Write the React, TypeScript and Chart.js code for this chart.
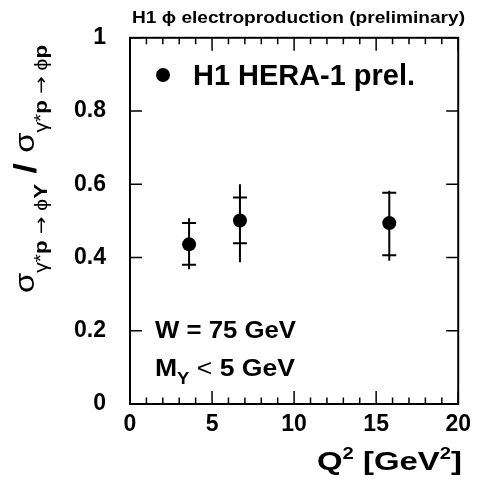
import React, { useEffect, useRef } from "react";
import { Chart, registerables } from "chart.js";

Chart.register(...registerables);

// ---- data ----
const q2Values = [3.6, 6.7, 15.8];
const ratioValues = [0.436, 0.501, 0.494];
const statErrUp = [0.058, 0.063, 0.083];
const statErrDown = [0.056, 0.062, 0.088];
const totErrUp = [0.071, 0.099, 0.088];
const totErrDown = [0.068, 0.114, 0.103];
const xMajorTicks = [0, 5, 10, 15, 20];
const xMinorTicks = [1, 2, 3, 4, 6, 7, 8, 9, 11, 12, 13, 14, 16, 17, 18, 19];
const yTickValues = [0, 0.2, 0.4, 0.6, 0.8, 1];
const yTickLabels = ["0", "0.2", "0.4", "0.6", "0.8", "1"];

const FAM = "'Liberation Sans', Arial, Helvetica, sans-serif";
const DJ = "'DejaVu Sans', sans-serif";

type Piece = { t: string; f: string; dy?: number };

function drawPieces(
  ctx: CanvasRenderingContext2D,
  pieces: Piece[],
  x: number,
  y: number,
  opts: { rotate?: boolean; align?: "left" | "right"; width?: number } = {}
) {
  ctx.save();
  ctx.fillStyle = "#000";
  ctx.textBaseline = "alphabetic";
  ctx.textAlign = "left";
  let total = 0;
  const widths = pieces.map((p) => {
    ctx.font = p.f;
    const w = ctx.measureText(p.t).width;
    total += w;
    return w;
  });
  const sx = opts.width ? opts.width / total : 1;
  ctx.translate(x, y);
  if (opts.rotate) ctx.rotate(-Math.PI / 2);
  let start = 0;
  if (opts.align === "right") start = -total * sx;
  ctx.scale(sx, 1);
  let cx = start / sx;
  pieces.forEach((p, i) => {
    ctx.font = p.f;
    ctx.fillText(p.t, cx, p.dy || 0);
    cx += widths[i];
  });
  ctx.restore();
}

const decorPlugin = {
  id: "decor",
  beforeDatasetsDraw(chart: any) {
    const ctx = chart.ctx as CanvasRenderingContext2D;
    const xs = chart.scales.x;
    const ys = chart.scales.y;
    ctx.save();
    ctx.strokeStyle = "#000";
    ctx.lineWidth = 2;
    q2Values.forEach((q, i) => {
      const px = xs.getPixelForValue(q);
      const v = ratioValues[i];
      const yTop = ys.getPixelForValue(v + totErrUp[i]);
      const yBot = ys.getPixelForValue(v - totErrDown[i]);
      const sTop = ys.getPixelForValue(v + statErrUp[i]);
      const sBot = ys.getPixelForValue(v - statErrDown[i]);
      ctx.beginPath();
      ctx.moveTo(px, yTop);
      ctx.lineTo(px, yBot);
      ctx.moveTo(px - 7, sTop);
      ctx.lineTo(px + 7, sTop);
      ctx.moveTo(px - 7, sBot);
      ctx.lineTo(px + 7, sBot);
      ctx.stroke();
    });
    ctx.restore();
  },
  afterDraw(chart: any) {
    const ctx = chart.ctx as CanvasRenderingContext2D;
    const a = chart.chartArea;
    const xs = chart.scales.x;
    const ys = chart.scales.y;
    ctx.save();
    ctx.strokeStyle = "#000";
    // ticks
    ctx.lineWidth = 1.5;
    ctx.beginPath();
    xMajorTicks.forEach((v) => {
      const px = xs.getPixelForValue(v);
      ctx.moveTo(px, a.bottom);
      ctx.lineTo(px, a.bottom - 13);
      ctx.moveTo(px, a.top);
      ctx.lineTo(px, a.top + 13);
    });
    xMinorTicks.forEach((v) => {
      const px = xs.getPixelForValue(v);
      ctx.moveTo(px, a.bottom);
      ctx.lineTo(px, a.bottom - 6.5);
      ctx.moveTo(px, a.top);
      ctx.lineTo(px, a.top + 6.5);
    });
    yTickValues.forEach((v) => {
      const py = ys.getPixelForValue(v);
      ctx.moveTo(a.left, py);
      ctx.lineTo(a.left + 12, py);
      ctx.moveTo(a.right, py);
      ctx.lineTo(a.right - 12, py);
    });
    ctx.stroke();
    // frame
    ctx.lineWidth = 2;
    ctx.strokeRect(a.left, a.top, a.right - a.left, a.bottom - a.top);
    ctx.restore();

    // legend
    ctx.save();
    ctx.fillStyle = "#000";
    ctx.beginPath();
    ctx.arc(163, 75, 7, 0, Math.PI * 2);
    ctx.fill();
    ctx.restore();
    drawPieces(ctx, [{ t: "H1 HERA-1 prel.", f: `bold 29px ${FAM}` }], 193, 85, { width: 222 });

    // title
    drawPieces(
      ctx,
      [{ t: "H1 \u03D5 electroproduction (preliminary)", f: `bold 16px ${FAM}` }],
      132,
      23,
      { width: 333 }
    );

    // W and M_Y
    drawPieces(ctx, [{ t: "W = 75 GeV", f: `bold 23px ${FAM}` }], 155, 338, { width: 141 });
    drawPieces(
      ctx,
      [
        { t: "M", f: `bold 23px ${FAM}` },
        { t: "Y", f: `bold 16px ${FAM}`, dy: 8 },
        { t: " < ", f: `23px ${FAM}` },
        { t: "5 GeV", f: `bold 23px ${FAM}` },
      ],
      155,
      376,
      { width: 140 }
    );

    // x title
    drawPieces(
      ctx,
      [
        { t: "Q", f: `bold 26px ${FAM}` },
        { t: "2", f: `bold 16px ${FAM}`, dy: -11 },
        { t: " [GeV", f: `bold 26px ${FAM}` },
        { t: "2", f: `bold 16px ${FAM}`, dy: -11 },
        { t: "]", f: `bold 26px ${FAM}` },
      ],
      462,
      470,
      { align: "right", width: 145 }
    );

    // y title
    drawPieces(
      ctx,
      [
        { t: "\u03C3", f: `28px ${FAM}` },
        { t: "\u03B3*", f: `18px ${FAM}`, dy: 13 },
        { t: "p ", f: `bold 19px ${FAM}`, dy: 13 },
        { t: "\u2192", f: `18px ${DJ}`, dy: 13 },
        { t: " \u03D5", f: `18px ${FAM}`, dy: 13 },
        { t: "Y", f: `bold 19px ${FAM}`, dy: 13 },
        { t: " / ", f: `bold 32px ${FAM}`, dy: 2 },
        { t: "\u03C3", f: `28px ${FAM}` },
        { t: "\u03B3*", f: `18px ${FAM}`, dy: 13 },
        { t: "p ", f: `bold 19px ${FAM}`, dy: 13 },
        { t: "\u2192", f: `18px ${DJ}`, dy: 13 },
        { t: " \u03D5", f: `18px ${FAM}`, dy: 13 },
        { t: "p", f: `bold 19px ${FAM}`, dy: 13 },
      ],
      34,
      293,
      { rotate: true, width: 248 }
    );
  },
};

export default function App() {
  const ref = useRef<HTMLCanvasElement | null>(null);
  useEffect(() => {
    if (!ref.current) return;
    const chart = new Chart(ref.current, {
      type: "scatter",
      data: {
        datasets: [
          {
            label: "H1 HERA-1 prel.",
            data: q2Values.map((x, i) => ({ x, y: ratioValues[i] })),
            pointRadius: 7,
            pointHoverRadius: 7,
            backgroundColor: "#000",
            borderColor: "#000",
            borderWidth: 0,
          },
        ],
      },
      options: {
        animation: false,
        responsive: false,
        maintainAspectRatio: false,
        events: [],
        layout: { padding: { top: 37, right: 16, left: 0, bottom: 0 } },
        plugins: { legend: { display: false }, tooltip: { enabled: false } },
        scales: {
          x: {
            type: "linear",
            position: "bottom",
            min: 0,
            max: 20,
            grid: { display: false, drawTicks: false },
            border: { display: false },
            afterBuildTicks: (s: any) => {
              s.ticks = xMajorTicks.map((v) => ({ value: v }));
            },
            ticks: {
              autoSkip: false,
              maxRotation: 0,
              color: "#000",
              padding: 7,
              font: { family: FAM, size: 23, weight: "bold" },
              callback: (v: any) => String(v),
            },
            afterFit: (s: any) => {
              s.height = 77;
            },
          },
          y: {
            type: "linear",
            min: 0,
            max: 1,
            grid: { display: false, drawTicks: false },
            border: { display: false },
            afterBuildTicks: (s: any) => {
              s.ticks = yTickValues.map((v) => ({ value: v }));
            },
            ticks: {
              autoSkip: false,
              color: "#000",
              padding: 24,
              font: { family: FAM, size: 23, weight: "bold" },
              callback: (v: any) => {
                const i = yTickValues.indexOf(Number(v));
                return i >= 0 ? yTickLabels[i] : "";
              },
            },
            afterFit: (s: any) => {
              s.width = 130;
            },
          },
        },
      } as any,
      plugins: [decorPlugin],
    });
    return () => chart.destroy();
  }, []);
  return (
    <div style={{ position: "absolute", left: 0, top: 0, width: 478, height: 481, background: "#fff" }}>
      <canvas ref={ref} width={478} height={481} style={{ display: "block" }} />
    </div>
  );
}
